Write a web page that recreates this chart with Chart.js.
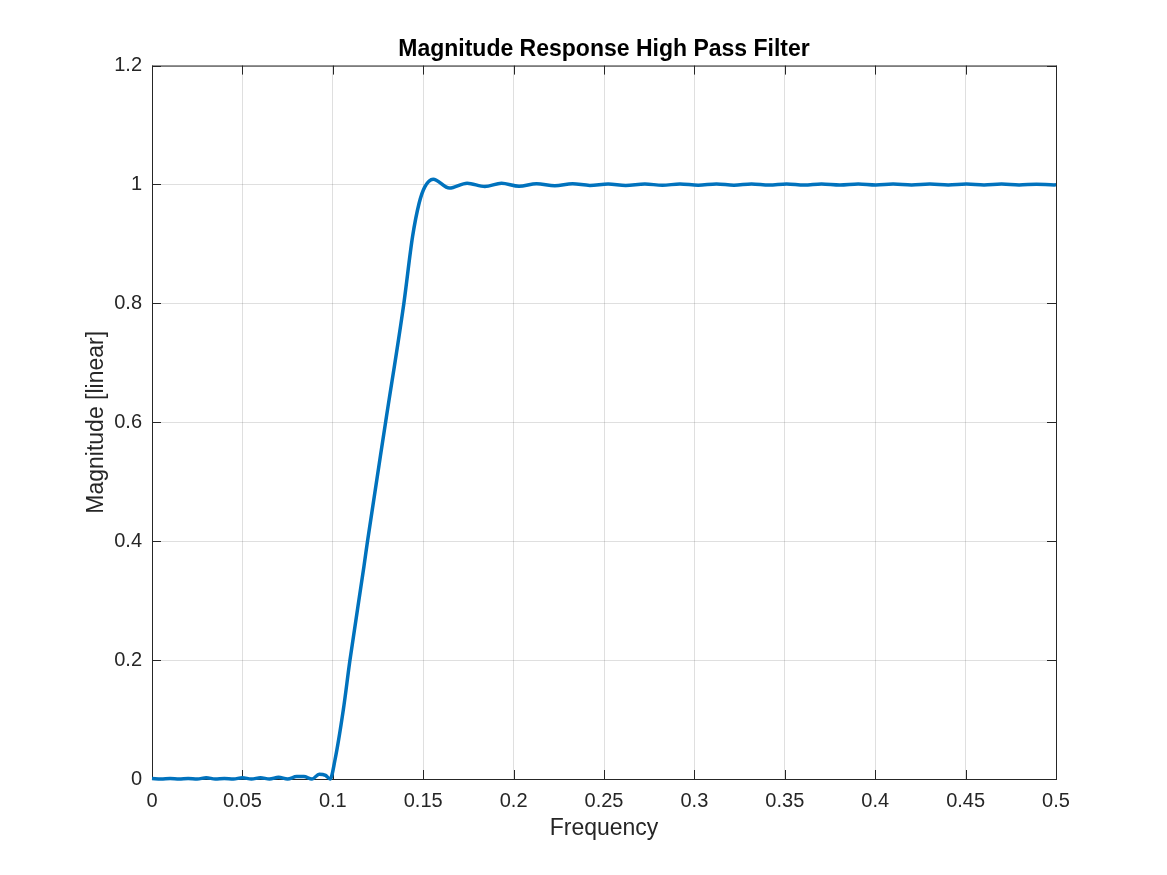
<!DOCTYPE html>
<html>
<head>
<meta charset="utf-8">
<title>Magnitude Response High Pass Filter</title>
<script src="https://cdn.jsdelivr.net/npm/chart.js@4.4.1/dist/chart.umd.min.js"></script>
<style>
    html, body { margin: 0; padding: 0; background: #ffffff; }
    #chart-wrap { width: 1167px; height: 875px; }
</style>
</head>
<body>
<div id="chart-wrap"><canvas id="mag-chart" width="1167" height="875"></canvas></div>
<script>
// Frequency (normalised) and magnitude
const freq = [
    0, 0.005, 0.010, 0.015, 0.020, 0.025, 0.030, 0.035, 0.040, 0.045,
    0.050, 0.055, 0.060, 0.065, 0.070, 0.075, 0.080, 0.084, 0.0885, 0.0925,
    0.0960, 0.0985, 0.1012, 0.1058, 0.1095, 0.1172, 0.1192, 0.1292, 0.1393, 0.1441,
    0.1477, 0.1509, 0.1555, 0.1645, 0.1743, 0.1841, 0.1933, 0.2030, 0.2127, 0.2228,
    0.2326, 0.2422, 0.2523, 0.2620, 0.2726, 0.2823, 0.2920, 0.3021, 0.3122, 0.3219,
    0.3316, 0.3413, 0.3510, 0.3607, 0.3703, 0.3805, 0.3906, 0.4003, 0.4099, 0.4201,
    0.4302, 0.4404, 0.4505, 0.4602, 0.4699, 0.4796, 0.4892, 0.4990, 0.5
];
const magnitude = [
    0.001, 0.000, 0.001, 0.000, 0.001, 0.000, 0.002, 0.000, 0.001, 0.000,
    0.002, 0.000, 0.002, 0.000, 0.003, 0.000, 0.004, 0.004, 0.000, 0.008,
    0.006, 0.000, 0.032, 0.116, 0.200, 0.357, 0.400, 0.600, 0.800, 0.912,
    0.968, 0.996, 1.009, 0.994, 1.0022, 0.9966, 1.0020, 0.9970, 1.0013, 0.9980,
    1.0012, 0.9985, 1.0010, 0.9985, 1.0010, 0.9986, 1.0010, 0.9988, 1.0009, 0.9989,
    1.0009, 0.9990, 1.0008, 0.9990, 1.0008, 0.9991, 1.0008, 0.9991, 1.0007, 0.9992,
    1.0007, 0.9992, 1.0007, 0.9992, 1.0007, 0.9993, 1.0006, 0.9993, 0.9995
];

const xTicks = [0, 0.05, 0.1, 0.15, 0.2, 0.25, 0.3, 0.35, 0.4, 0.45, 0.5];
const xTickLabels = ['0', '0.05', '0.1', '0.15', '0.2', '0.25', '0.3', '0.35', '0.4', '0.45', '0.5'];
const yTicks = [0, 0.2, 0.4, 0.6, 0.8, 1, 1.2];
const yTickLabels = ['0', '0.2', '0.4', '0.6', '0.8', '1', '1.2'];

const axisColor = '#262626';
const gridColor = 'rgba(38, 38, 38, 0.15)';
const lineColor = '#0072BD';

Chart.defaults.font.family = '"Liberation Sans", Arial, Helvetica, sans-serif';
Chart.defaults.color = axisColor;

// MATLAB style box with inward ticks on all four sides
const boxAxes = {
    id: 'boxAxes',
    beforeDatasetsDraw(chart) {
        const { ctx, chartArea: a, scales } = chart;
        const tl = 9;
        ctx.save();
        ctx.strokeStyle = axisColor;
        ctx.lineWidth = 1;
        ctx.strokeRect(a.left + 0.5, a.top + 0.5, a.right - a.left, a.bottom - a.top);
        ctx.beginPath();
        xTicks.forEach(v => {
            const x = Math.round(scales.x.getPixelForValue(v)) + 0.5;
            ctx.moveTo(x, a.bottom); ctx.lineTo(x, a.bottom - tl);
            ctx.moveTo(x, a.top); ctx.lineTo(x, a.top + tl);
        });
        yTicks.forEach(v => {
            const y = Math.round(scales.y.getPixelForValue(v)) + 0.5;
            ctx.moveTo(a.left, y); ctx.lineTo(a.left + tl, y);
            ctx.moveTo(a.right, y); ctx.lineTo(a.right - tl, y);
        });
        ctx.stroke();
        ctx.restore();
    }
};

const ctx = document.getElementById('mag-chart').getContext('2d');
const magChart = new Chart(ctx, {
    type: 'line',
    data: {
        datasets: [{
            label: 'Magnitude',
            data: freq.map((f, i) => ({ x: f, y: magnitude[i] })),
            borderColor: lineColor,
            borderWidth: 3.5,
            pointRadius: 0,
            cubicInterpolationMode: 'monotone',
            clip: false
        }]
    },
    options: {
        responsive: false,
        animation: false,
        devicePixelRatio: 1,
        layout: { padding: { left: 0, right: 111, top: 0, bottom: 0 } },
        plugins: {
            legend: { display: false },
            tooltip: { enabled: false },
            title: {
                display: true,
                fullSize: false,
                text: 'Magnitude Response High Pass Filter',
                color: '#000000',
                font: { size: 23, weight: 'bold' },
                padding: { top: 36, bottom: 2 }
            }
        },
        scales: {
            x: {
                type: 'linear',
                min: 0,
                max: 0.5,
                afterBuildTicks: s => { s.ticks = xTicks.map(v => ({ value: v })); },
                afterFit: s => { s.height = 96; },
                border: { display: false },
                grid: { color: gridColor, drawTicks: false },
                ticks: {
                    padding: 10,
                    maxRotation: 0,
                    font: { size: 20 },
                    color: axisColor,
                    callback: (v, i) => xTickLabels[i]
                },
                title: {
                    display: true,
                    text: 'Frequency',
                    color: axisColor,
                    font: { size: 23 },
                    padding: { top: 0, bottom: 33 }
                }
            },
            y: {
                type: 'linear',
                min: 0,
                max: 1.2,
                afterBuildTicks: s => { s.ticks = yTicks.map(v => ({ value: v })); },
                afterFit: s => { s.width = 152; },
                border: { display: false },
                grid: { color: gridColor, drawTicks: false },
                ticks: {
                    padding: 10,
                    font: { size: 20 },
                    color: axisColor,
                    callback: (v, i) => yTickLabels[i]
                },
                title: {
                    display: true,
                    text: 'Magnitude [linear]',
                    color: axisColor,
                    font: { size: 23 },
                    padding: { top: 83, bottom: 0 }
                }
            }
        }
    },
    plugins: [boxAxes]
});
</script>
</body>
</html>
